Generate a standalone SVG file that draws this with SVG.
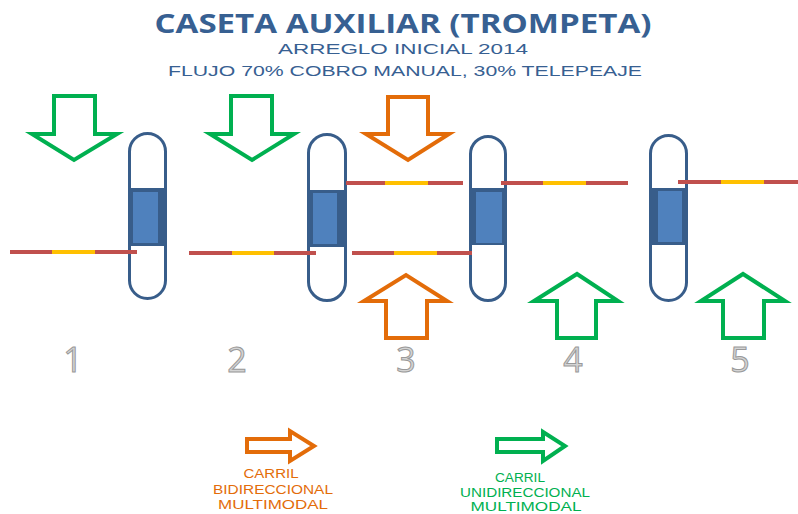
<svg xmlns="http://www.w3.org/2000/svg" width="798" height="514" viewBox="0 0 798 514">
<style>
.title{font-family:"Open Sans","Liberation Sans",sans-serif;fill:#376092;text-anchor:middle}
.sub{font-family:"Liberation Sans",sans-serif;fill:#376092;text-anchor:middle}
.cap{fill:#fff;stroke:#385D8A;stroke-width:3}
.dark{fill:#385D8A}
.light{fill:#4F81BD}
.red{stroke:#C0504D;stroke-width:4}
.yel{stroke:#FFC000;stroke-width:4}
.garrow{fill:#fff;stroke:#00B050;stroke-width:4;stroke-linejoin:miter}
.oarrow{fill:#fff;stroke:#E36C09;stroke-width:4;stroke-linejoin:miter}
.num{font-family:"Open Sans","Liberation Sans",sans-serif;font-size:34px;fill:#d4d4d4;stroke:#999;stroke-width:1;text-anchor:middle}
.leg{font-family:"Liberation Sans",sans-serif;font-size:12px;text-anchor:middle}
</style>
<g id="title">
<text class="title" x="403" y="33" font-size="27" font-weight="bold" textLength="497" lengthAdjust="spacingAndGlyphs">CASETA AUXILIAR (TROMPETA)</text>
<text class="sub" x="403" y="54" font-size="15" textLength="250" lengthAdjust="spacingAndGlyphs">ARREGLO INICIAL 2014</text>
<text class="sub" x="405" y="76" font-size="15" textLength="474" lengthAdjust="spacingAndGlyphs">FLUJO 70% COBRO MANUAL, 30% TELEPEAJE</text>
</g>
<g id="booth1">
<rect class="cap" x="129.5" y="133.5" width="36" height="165" rx="18"/>
<rect class="dark" x="128" y="188" width="38" height="58"/>
<rect class="light" x="133" y="192" width="25" height="51"/>
</g>
<g id="booth2">
<rect class="cap" x="308.5" y="134.5" width="37" height="166" rx="18.5"/>
<rect class="dark" x="307" y="190" width="39" height="57"/>
<rect class="light" x="313" y="193" width="24" height="51"/>
</g>
<g id="booth3">
<rect class="cap" x="470.5" y="136.5" width="35" height="164" rx="17.5"/>
<rect class="dark" x="469" y="188" width="38" height="57"/>
<rect class="light" x="476" y="192" width="26" height="51"/>
</g>
<g id="booth4">
<rect class="cap" x="650.5" y="135.5" width="36" height="165" rx="18"/>
<rect class="dark" x="649" y="188" width="39" height="57"/>
<rect class="light" x="658" y="191" width="24" height="51"/>
</g>
<g id="lanes">
<line class="red" x1="10" y1="252" x2="137" y2="252"/><line class="yel" x1="52" y1="252" x2="95" y2="252"/>
<line class="red" x1="189" y1="253" x2="316" y2="253"/><line class="yel" x1="232" y1="253" x2="274" y2="253"/>
<line class="red" x1="346" y1="183" x2="463" y2="183"/><line class="yel" x1="385" y1="183" x2="428" y2="183"/>
<line class="red" x1="352" y1="253" x2="472" y2="253"/><line class="yel" x1="394" y1="253" x2="437" y2="253"/>
<line class="red" x1="501" y1="183" x2="628" y2="183"/><line class="yel" x1="543" y1="183" x2="586" y2="183"/>
<line class="red" x1="678" y1="182" x2="798" y2="182"/><line class="yel" x1="721" y1="182" x2="764" y2="182"/>
</g>
<g id="arrows">
<polygon class="garrow" points="54,96 95,96 95,134 117,134 74,160 32,134 54,134"/>
<polygon class="garrow" points="231,96 272,96 272,134 294,134 252,160 210,134 231,134"/>
<polygon class="oarrow" points="388,97 428,97 428,134 449,134 408,160 366,134 388,134"/>
<polygon class="oarrow" points="386,338 427,338 427,301 447,301 406,275 364,301 386,301"/>
<polygon class="garrow" points="557,338 596,338 596,301 618,301 577,274 534,301 557,301"/>
<polygon class="garrow" points="723,338 764,338 764,301 785,301 743,274 701,301 723,301"/>
</g>
<g id="numbers">
<text class="num" x="73" y="372">1</text>
<text class="num" x="237" y="372">2</text>
<text class="num" x="406" y="372">3</text>
<text class="num" x="573" y="372">4</text>
<text class="num" x="740" y="372">5</text>
</g>
<g id="legend-bidireccional">
<polygon class="oarrow" points="247,439 290,439 290,431 314,446 290,461 290,452 247,452"/>
<text class="leg" fill="#E36C09" x="271" y="478" textLength="55" lengthAdjust="spacingAndGlyphs">CARRIL</text>
<text class="leg" fill="#E36C09" x="273" y="494" textLength="120" lengthAdjust="spacingAndGlyphs">BIDIRECCIONAL</text>
<text class="leg" fill="#E36C09" x="273" y="509" textLength="110" lengthAdjust="spacingAndGlyphs">MULTIMODAL</text>
</g>
<g id="legend-unidireccional">
<polygon class="garrow" points="497,439 543,439 543,432 565,446 543,461 543,452 497,452"/>
<text class="leg" fill="#00B050" x="520" y="482" textLength="50" lengthAdjust="spacingAndGlyphs">CARRIL</text>
<text class="leg" fill="#00B050" x="525" y="497" textLength="130" lengthAdjust="spacingAndGlyphs">UNIDIRECCIONAL</text>
<text class="leg" fill="#00B050" x="526" y="511" textLength="111" lengthAdjust="spacingAndGlyphs">MULTIMODAL</text>
</g>
</svg>
